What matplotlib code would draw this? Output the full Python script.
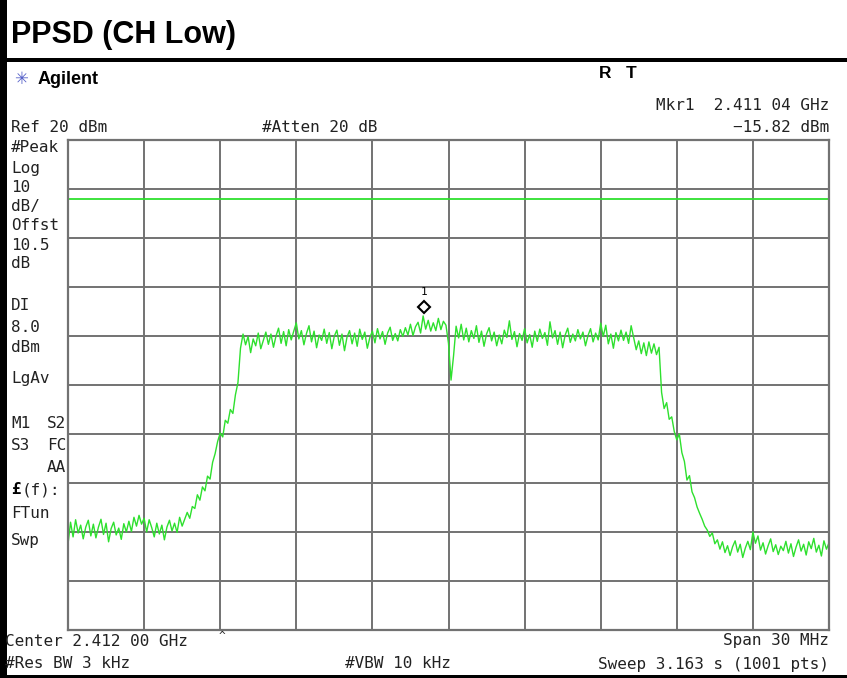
"""
plot.py
Tela do analisador de espectro: PPSD (CH Low), traço de pico com linha de display.
"""

import matplotlib
matplotlib.use("Agg")
import matplotlib.pyplot as plt
import matplotlib.transforms as mtransforms
from matplotlib.patches import Rectangle
import numpy as np

W, H = 847, 678

REF_DBM = 20.0
DB_DIV = 10.0
DISPLAY_LINE = 8.0
SPAN_MHZ = 30.0
STEP_MHZ = 0.1          # espaçamento dos pontos lidos no traço
MKR_OFFSET_MHZ = 14.04  # 2.411 04 GHz em relação a 2.397 GHz
MKR_DBM = -15.82

# uma linha = 1 MHz (10 pontos)
nivel_dbm = [
    -62.5, -58.0, -61.0, -57.5, -60.2, -58.6, -61.4, -59.0, -57.6, -60.8,
    -58.4, -61.2, -59.0, -57.4, -60.5, -58.2, -62.0, -59.3, -58.0, -60.6,
    -59.2, -61.5, -58.3, -60.0, -57.8, -59.9, -57.0, -58.8, -56.6, -58.4,
    -57.2, -60.0, -57.5, -59.1, -61.0, -58.2, -60.4, -58.6, -61.6, -59.0,
    -57.6, -59.8, -58.2, -60.1, -57.0, -58.8, -57.4, -56.0, -57.2, -54.8,
    -55.2, -52.4, -53.5, -50.8, -51.6, -48.6, -49.2, -45.8, -44.0, -41.5,
    -39.8, -40.6, -37.2, -37.8, -35.0, -35.8, -32.0, -29.5, -22.5, -19.6,
    -21.8, -20.1, -23.4, -20.6, -22.0, -19.4, -22.6, -20.9, -19.2, -21.7,
    -19.6, -22.3, -20.0, -18.4, -21.5, -19.1, -22.0, -18.7, -20.8, -19.0,
    -17.3, -20.6, -18.9, -21.8, -19.5, -17.9, -21.2, -19.0, -22.4, -19.8,
    -20.9, -18.6, -21.5, -19.3, -22.6, -20.0, -18.8, -21.9, -19.6, -23.0,
    -20.2, -18.9, -21.6, -19.4, -22.1, -18.6, -20.7, -19.2, -22.5, -20.3,
    -19.0, -21.4, -18.5, -20.6, -19.1, -21.7, -19.4, -18.2, -20.9, -19.5,
    -21.0, -18.7, -20.1, -18.3, -19.8, -17.6, -19.9, -18.1, -17.2, -19.4,
    -15.9, -18.6, -16.8, -19.0, -17.3, -18.9, -16.4, -18.7, -17.0, -17.8,
    -21.5, -29.0, -24.0, -18.0, -20.4, -17.6, -20.8, -18.4, -21.2, -18.9,
    -20.5, -17.9, -21.3, -19.0, -22.1, -19.6, -18.3, -21.0, -19.2, -22.0,
    -19.8, -21.6, -18.8, -20.3, -16.9, -20.7, -19.1, -22.2, -19.5, -20.9,
    -18.5, -21.4, -19.7, -22.3, -19.0, -21.1, -18.6, -20.5, -19.3, -21.9,
    -17.1, -20.4, -18.9, -21.7, -19.2, -22.4, -19.8, -18.4, -21.3, -19.6,
    -21.0, -18.7, -20.6, -19.2, -22.0, -19.9, -18.5, -21.2, -19.4, -20.8,
    -17.4, -20.1, -17.8, -21.6, -19.6, -22.5, -19.3, -21.0, -18.8, -20.9,
    -19.2, -21.5, -17.9, -20.4, -22.8, -21.0, -23.6, -21.4, -24.0, -21.2,
    -23.5, -21.6, -23.8, -22.3, -31.5, -34.8, -33.6, -37.0, -36.5, -39.5,
    -41.2, -40.0, -43.8, -45.6, -49.4, -48.5, -51.8, -53.0, -54.9, -56.2,
    -57.4, -58.8, -59.6, -60.9, -60.2, -62.4, -61.6, -63.5, -62.0, -64.2,
    -62.8, -64.8, -63.0, -61.8, -64.1, -62.5, -65.2, -63.3, -61.9, -63.6,
    -60.0, -62.3, -60.8, -63.7, -62.2, -64.5, -62.8, -61.4, -64.0, -62.6,
    -64.6, -62.9, -63.8, -61.9, -64.3, -62.4, -65.0, -63.1, -61.6, -63.9,
    -62.5, -64.7, -62.0, -63.4, -61.3, -64.1, -62.7, -64.9, -61.8, -63.5,
    -62.2,
]
freq_mhz = np.arange(len(nivel_dbm)) * STEP_MHZ

rotulos_esq = ["#Peak", "Log", "10", "dB/", "Offst", "10.5", "dB",
               "DI", "8.0", "dBm", "LgAv", "M1", "S3", "FTun", "Swp"]
rotulos_esq_y = [147, 169, 188, 207, 226, 246, 264,
                 306, 327, 348, 378, 424, 446, 514, 540]
rotulos_dir = ["S2", "FC", "AA"]
rotulos_dir_y = [424, 446, 468]

VERDE = "#2ee02e"
GRADE = "#727272"
TEXTO = "#222222"
MONO = "DejaVu Sans Mono"
FS = 11.5


def px(x, y):
    return x / W, 1 - y / H


fig = plt.figure(figsize=(W / 100, H / 100), dpi=100)

# ------------------------------------------------ área do traço
x0, y0, x1, y1 = 68, 140, 829, 630
ax = fig.add_axes([x0 / W, 1 - y1 / H, (x1 - x0) / W, (y1 - y0) / H])
ax.set_xlim(0, SPAN_MHZ)
ax.set_ylim(REF_DBM - 10 * DB_DIV, REF_DBM)
ax.set_xticks(np.arange(0, SPAN_MHZ + 0.1, SPAN_MHZ / 10))
ax.set_yticks(np.arange(REF_DBM - 10 * DB_DIV, REF_DBM + 0.1, DB_DIV))
ax.grid(True, color=GRADE, lw=1.4)
ax.tick_params(length=0, labelleft=False, labelbottom=False)
for s in ax.spines.values():
    s.set_color(GRADE)
    s.set_linewidth(1.6)

ax.axhline(DISPLAY_LINE, color=VERDE, lw=1.3)
ax.plot(freq_mhz, nivel_dbm, color=VERDE, lw=1.0)

off = mtransforms.offset_copy(ax.transData, fig=fig, x=0, y=6, units="points")
ax.plot(MKR_OFFSET_MHZ, MKR_DBM, marker="D", ms=6, mfc="white", mec="black",
        mew=1.5, transform=off, clip_on=False)
ax.text(MKR_OFFSET_MHZ, MKR_DBM, "1", transform=mtransforms.offset_copy(
    ax.transData, fig=fig, x=0, y=13, units="points"),
    ha="center", va="bottom", fontsize=8, family=MONO)

# ------------------------------------------------ textos da tela
fig.text(*px(11, 35), "PPSD (CH Low)", fontsize=22, fontweight="bold",
         family="Liberation Sans", va="center")
fig.text(*px(38, 79), "Agilent", fontsize=13, fontweight="bold",
         family="Liberation Sans", va="center")
fig.text(*px(21, 79), "✳", fontsize=12, color="#5560c8", ha="center",
         va="center", family="DejaVu Sans")
fig.text(*px(599, 73), "R", fontsize=12.5, fontweight="bold",
         family="Liberation Sans", va="center")
fig.text(*px(626, 73), "T", fontsize=12.5, fontweight="bold",
         family="Liberation Sans", va="center")

fig.text(*px(829, 106), "Mkr1  2.411 04 GHz", fontsize=FS, family=MONO,
         ha="right", va="center", color=TEXTO)
fig.text(*px(829, 128), "\u221215.82 dBm", fontsize=FS, family=MONO,
         ha="right", va="center", color=TEXTO)
fig.text(*px(11, 128), "Ref 20 dBm", fontsize=FS, family=MONO,
         va="center", color=TEXTO)
fig.text(*px(262, 128), "#Atten 20 dB", fontsize=FS, family=MONO,
         va="center", color=TEXTO)

for txt, yy in zip(rotulos_esq, rotulos_esq_y):
    fig.text(*px(11, yy), txt, fontsize=FS, family=MONO, va="center",
             color=TEXTO)
for txt, yy in zip(rotulos_dir, rotulos_dir_y):
    fig.text(*px(66, yy), txt, fontsize=FS, family=MONO, va="center",
             ha="right", color=TEXTO)
fig.text(*px(11, 490), "£", fontsize=FS, family=MONO, va="center",
         fontweight="bold", color="black")
fig.text(*px(22, 490), "(f):", fontsize=FS, family=MONO, va="center",
         color=TEXTO)

fig.text(*px(5, 641), "Center 2.412 00 GHz", fontsize=FS, family=MONO,
         va="center", color=TEXTO)
fig.text(*px(222, 636), "^", fontsize=8, family=MONO, va="center",
         ha="center", color=TEXTO)
fig.text(*px(829, 641), "Span 30 MHz", fontsize=FS, family=MONO,
         ha="right", va="center", color=TEXTO)
fig.text(*px(5, 664), "#Res BW 3 kHz", fontsize=FS, family=MONO,
         va="center", color=TEXTO)
fig.text(*px(345, 664), "#VBW 10 kHz", fontsize=FS, family=MONO,
         va="center", color=TEXTO)
fig.text(*px(829, 664), "Sweep 3.163 s (1001 pts)", fontsize=FS,
         family=MONO, ha="right", va="center", color=TEXTO)

# ------------------------------------------------ moldura preta
fig.add_artist(Rectangle(px(0, H), 7 / W, 1, transform=fig.transFigure,
                         color="black", lw=0))
fig.add_artist(Rectangle(px(0, 62), 1, 4 / H, transform=fig.transFigure,
                         color="black", lw=0))
fig.add_artist(Rectangle(px(0, H), 1, 3 / H, transform=fig.transFigure,
                         color="black", lw=0))

fig.savefig("out.png", dpi=100)
